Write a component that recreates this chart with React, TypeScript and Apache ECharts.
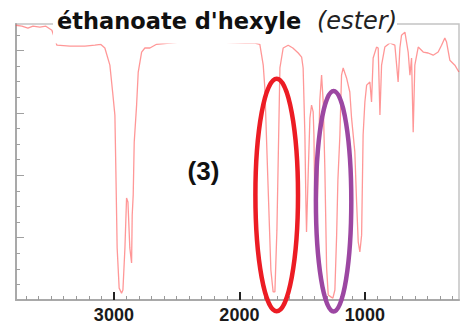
import React, { useEffect, useRef } from "react";
import * as echarts from "echarts";

// IR spectrum of hexyl ethanoate (wavenumber in cm-1, transmittance in %)
const wavenumbers = [
  3781, 3733, 3685, 3645, 3590, 3542, 3494, 3454, 3350, 3231, 3151, 3106, 3072, 3032, 3010,
  2992, 2984, 2974, 2958, 2939, 2928, 2912, 2899, 2888, 2873, 2859, 2854, 2846, 2838, 2819,
  2806, 2779, 2753, 2713, 2660, 2474, 2155, 1956, 1876, 1837, 1810, 1797, 1773, 1749, 1731,
  1717, 1701, 1677, 1651, 1611, 1574, 1531, 1504, 1492, 1478, 1470, 1465, 1452, 1438, 1425,
  1412, 1406, 1398, 1386, 1374, 1359, 1345, 1332, 1319, 1305, 1292, 1271, 1255, 1239, 1225,
  1215, 1199, 1186, 1173, 1146, 1120, 1106, 1080, 1066, 1053, 1040, 1026, 1014, 1000, 986,
  960, 947, 934, 907, 894, 880, 867, 841, 801, 761, 735, 721, 708, 681, 655,
  641, 628, 615, 602, 575, 535, 496, 456, 416, 389, 363, 349, 323, 283, 251,
];
const transmittance = [
  88.1, 87.8, 87.2, 87.8, 87.5, 87.8, 86.5, 81.7, 81.4, 81.4, 81.7, 82.0, 80.8, 75.3, 66.7,
  59.3, 41.0, 16.7, 3.8, 2.2, 3.2, 16.7, 32.7, 31.4, 16.7, 11.9, 27.2, 33.7, 50.6, 62.5,
  73.1, 79.5, 80.8, 80.8, 82.0, 82.7, 82.7, 82.4, 82.4, 82.0, 75.3, 67.9, 38.5, 9.6, 2.6,
  2.6, 22.4, 74.4, 80.8, 81.7, 80.8, 79.2, 77.9, 74.4, 52.9, 31.4, 21.8, 40.1, 58.3, 62.5,
  60.3, 52.9, 27.2, 23.1, 38.5, 64.1, 72.1, 63.5, 42.3, 10.3, 1.6, 1.0, 0.6, 3.2, 20.8,
  38.5, 52.9, 72.1, 74.4, 71.2, 66.7, 58.3, 47.4, 31.4, 18.6, 15.4, 20.8, 52.9, 63.5, 68.9,
  69.9, 63.5, 77.6, 81.1, 80.8, 59.3, 75.3, 81.1, 82.4, 81.7, 69.9, 80.8, 84.9, 85.9, 79.5,
  72.1, 77.6, 53.8, 75.3, 81.1, 79.5, 79.2, 78.5, 79.5, 81.7, 84.0, 82.7, 76.9, 75.3, 73.1,
];

const xMajorTicks = [1000, 2000, 3000];
const xMinorTicks = [
  300, 400, 500, 600, 700, 800, 900, 1000, 1100, 1200, 1300, 1400, 1500, 1600, 1700, 1800,
  1900, 2000, 2100, 2200, 2300, 2400, 2500, 2600, 2700, 2800, 2900, 3000, 3100, 3200, 3300,
  3400, 3500, 3600, 3700,
];
const yMinorTicks = [5, 10, 15, 20, 25, 30, 35, 40, 45, 50, 55, 60, 65, 70, 75, 80, 85];
const yMajorTicks = [20, 40, 60, 80];

const titleMain = "éthanoate d'hexyle";
const titleSub = "(ester)";
const bandLabel = "(3)";

export default function App() {
  const ref = useRef<HTMLDivElement>(null);

  useEffect(() => {
    if (!ref.current) return;
    const chart = echarts.init(ref.current, null, { renderer: "svg" });
    const data = wavenumbers.map((w, i) => [w, transmittance[i]]);

    const xBase = {
      type: "value",
      min: 250,
      max: 3780,
      inverse: true,
      position: "bottom",
      splitLine: { show: false },
    };
    const yBase = {
      type: "value",
      min: 0,
      max: 88.5,
      position: "left",
      splitLine: { show: false },
      axisLabel: { show: false },
    };

    chart.setOption({
      animation: false,
      grid: {
        left: 16,
        top: 24,
        right: 11,
        bottom: 28,
        show: true,
        borderColor: "#c4c4c4",
        borderWidth: 1.5,
      },
      xAxis: [
        {
          ...xBase,
          axisLine: { show: true, lineStyle: { color: "#a9a9a9", width: 2 } },
          axisTick: {
            show: true,
            inside: true,
            length: 4,
            customValues: xMinorTicks,
            lineStyle: { color: "#9a9a9a", width: 1 },
          },
          axisLabel: { show: false },
        },
        {
          ...xBase,
          axisLine: { show: false },
          axisTick: {
            show: true,
            inside: true,
            length: 8,
            customValues: xMajorTicks,
            lineStyle: { color: "#222", width: 2 },
          },
          axisLabel: {
            show: true,
            customValues: xMajorTicks,
            formatter: (v: number) => String(v),
            margin: 6,
            fontSize: 18,
            fontWeight: "bold",
            fontFamily: "Liberation Sans, Arial, sans-serif",
            color: "#1a1a1a",
          },
        },
      ],
      yAxis: [
        {
          ...yBase,
          axisLine: { show: true, lineStyle: { color: "#a9a9a9", width: 2 } },
          axisTick: {
            show: true,
            inside: true,
            length: 4,
            customValues: yMinorTicks,
            lineStyle: { color: "#a0a0a0", width: 1 },
          },
        },
        {
          ...yBase,
          axisLine: { show: false },
          axisTick: {
            show: true,
            inside: true,
            length: 8,
            customValues: yMajorTicks,
            lineStyle: { color: "#a0a0a0", width: 1 },
          },
        },
      ],
      series: [
        {
          type: "line",
          xAxisIndex: 0,
          yAxisIndex: 0,
          data,
          symbol: "none",
          showSymbol: false,
          lineStyle: { color: "#ff5252", width: 1.3, opacity: 0.6 },
          z: 3,
        },
      ],
      graphic: [
        {
          type: "rect",
          z: 100,
          shape: { x: 53, y: 0, width: 344, height: 43.5 },
          style: { fill: "#ffffff" },
        },
        {
          type: "text",
          z: 101,
          x: 57,
          y: 21,
          style: {
            text: titleMain,
            fill: "#111",
            font: "bold 22.5px 'DejaVu Sans'",
            align: "left",
            verticalAlign: "middle",
          },
        },
        {
          type: "text",
          z: 101,
          x: 317,
          y: 21,
          style: {
            text: titleSub,
            fill: "#222",
            font: "oblique 24px 'DejaVu Sans'",
            align: "left",
            verticalAlign: "middle",
          },
        },
        {
          type: "text",
          z: 101,
          x: 203.5,
          y: 171,
          style: {
            text: bandLabel,
            fill: "#111",
            font: "bold 26px 'Liberation Sans', Arial, sans-serif",
            align: "center",
            verticalAlign: "middle",
          },
        },
        {
          type: "ellipse",
          z: 90,
          shape: { cx: 276.7, cy: 195, rx: 21.3, ry: 116.3 },
          style: { fill: "none", stroke: "#ec1c24", lineWidth: 4.5 },
        },
        {
          type: "ellipse",
          z: 90,
          shape: { cx: 333.6, cy: 201.2, rx: 17.7, ry: 110.2 },
          style: { fill: "none", stroke: "#9c47a2", lineWidth: 4.5 },
        },
      ],
    });

    return () => chart.dispose();
  }, []);

  return (
    <div
      ref={ref}
      style={{ position: "absolute", left: 0, top: 0, width: 470, height: 328, background: "#fff" }}
    />
  );
}
